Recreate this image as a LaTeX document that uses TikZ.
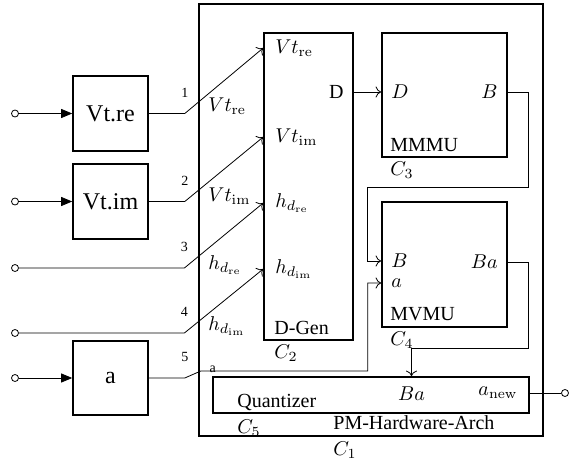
\documentclass[tikz,border=0pt]{standalone}
\usepackage[no-math]{fontspec}
\setmainfont{Liberation Serif}
\usetikzlibrary{positioning, arrows.meta}

\begin{document}
\begin{tikzpicture}[
      x=0.5pt, y=-0.5pt,
      blk/.style={draw, thick, inner sep=0pt},
      src/.style={circle, draw, thin, fill=white, minimum size=3.5pt, inner sep=0pt},
      feed/.style={thin, -{Triangle[length=5.5pt, width=4.5pt]}},
      sig/.style={thin, -{To[length=2.8pt, width=5.5pt]}},
      lbl/.style={inner sep=0pt, anchor=west},
      rlbl/.style={inner sep=0pt, anchor=east},
      num/.style={font=\scriptsize, inner sep=0pt, above=8pt}
  ]
    \useasboundingbox (0,0) rectangle (569,461);

    % blocks
    \node[blk, minimum width=172pt, minimum height=216pt](arch) at (371,220){};
    \node[blk, minimum width=37.5pt, minimum height=37.5pt, font=\large](vtre) at (110.5,113.5){Vt.re};
    \node[blk, minimum width=37.5pt, minimum height=37.5pt, font=\large](vtim) at (110.5,201.5){Vt.im};
    \node[blk, minimum width=37.5pt, minimum height=37pt, font=\large](abox) at (110.5,378){a};
    \node[blk, minimum width=44.5pt, minimum height=153.5pt](dgen) at (308.5,186.5){};
    \node[blk, minimum width=62.5pt, minimum height=62pt](mmmu) at (444.5,95){};
    \node[blk, minimum width=62.5pt, minimum height=62.5pt](mvmu) at (444.5,264.5){};
    \node[blk, minimum width=158pt, minimum height=18pt](qz) at (371,395){};

    % sources
    \node[src](ivtre) at (15,113.5){};
    \node[src](ivtim) at (15,201.5){};
    \node[src](ihdre) at (15,268){};
    \node[src](ihdim) at (15,333){};
    \node[src](ia) at (15,378){};
    \node[src](oanew) at (565,393){};

    % ports of D-Gen
    \node[lbl](pvtre) at (275,48){$Vt_{\mathrm{re}}$};
    \node[lbl](pvtim) at (275,137){$Vt_{\mathrm{im}}$};
    \node[lbl](phdre) at (275,203){$h_{d_{\mathrm{re}}}$};
    \node[lbl](phdim) at (275,269){$h_{d_{\mathrm{im}}}$};
    \node[rlbl](pdout) at (344,92){D};
    \node[lbl](ndgen) at (274,328){D-Gen};
    \node[lbl](cdgen) at (274,353){$C_2$};

    % ports of MMMU
    \node[lbl](pmd) at (391,92){$D$};
    \node[rlbl](pmb) at (498,92){$B$};
    \node[lbl](nmmmu) at (390,145){MMMU};
    \node[lbl](cmmmu) at (390,170){$C_3$};

    % ports of MVMU
    \node[lbl](pvb) at (391,261){$B$};
    \node[lbl](pva) at (391,283){$a$};
    \node[rlbl](pvba) at (498,262){$Ba$};
    \node[lbl](nmvmu) at (390,314){MVMU};
    \node[lbl](cmvmu) at (390,340){$C_4$};

    % ports of Quantizer
    \node[lbl](nqz) at (237,402){Quantizer};
    \node(qba) at (411.5,394){$Ba$};
    \node[rlbl](qanew) at (518,393){$a_{\mathrm{new}}$};
    \node[lbl](cqz) at (237,428){$C_5$};

    % outer labels
    \node[lbl](narch) at (333,423){PM-Hardware-Arch};
    \node[lbl](carch) at (333,450){$C_1$};
    \node[lbl](avtre) at (208,106){$Vt_{\mathrm{re}}$};
    \node[lbl](avtim) at (208,196){$Vt_{\mathrm{im}}$};
    \node[lbl](ahdre) at (208,265){$h_{d_{\mathrm{re}}}$};
    \node[lbl](ahdim) at (208,326){$h_{d_{\mathrm{im}}}$};

    % inputs
    \draw[feed] (ivtre) -- (vtre);
    \draw[feed] (ivtim) -- (vtim);
    \draw[feed] (ia) -- (abox);
    \draw[sig] (vtre.east) -- ++(36,0) node[num](n1){1} -- (dgen.west |- pvtre.west);
    \draw[sig] (vtim.east) -- ++(36,0) node[num](n2){2} -- (dgen.west |- pvtim.west);
    \draw[sig] (ihdre.east) -- ++(165.5,0) node[num](n3){3} -- (dgen.west |- phdre.west);
    \draw[sig] (ihdim.east) -- ++(165.5,0) node[num](n4){4} -- (dgen.west |- phdim.west);
    \draw[sig] (abox.east) -- ++(36,0) node[num](n5){5} -- ++(16,-7)
      node[font=\scriptsize, inner sep=0pt, xshift=6pt, yshift=1pt](la){a}
      -- ++(167,0) |- (mvmu.west |- pva.west);

    % internal links
    \draw[sig] (dgen.east |- pdout) -- (mmmu.west |- pmd.west);
    \draw[sig] (mmmu.east |- pmb) -- ++(21,0) -- ++(0,95) -- ++(-161,0) |- (mvmu.west |- pvb.west);
    \draw[sig] (mvmu.east |- pvba) -- ++(21,0) -- ++(0,86) -| (qz.north -| qba);
    \draw[thin] (qz.east |- qanew) -- (oanew);
  \end{tikzpicture}
\end{document}
